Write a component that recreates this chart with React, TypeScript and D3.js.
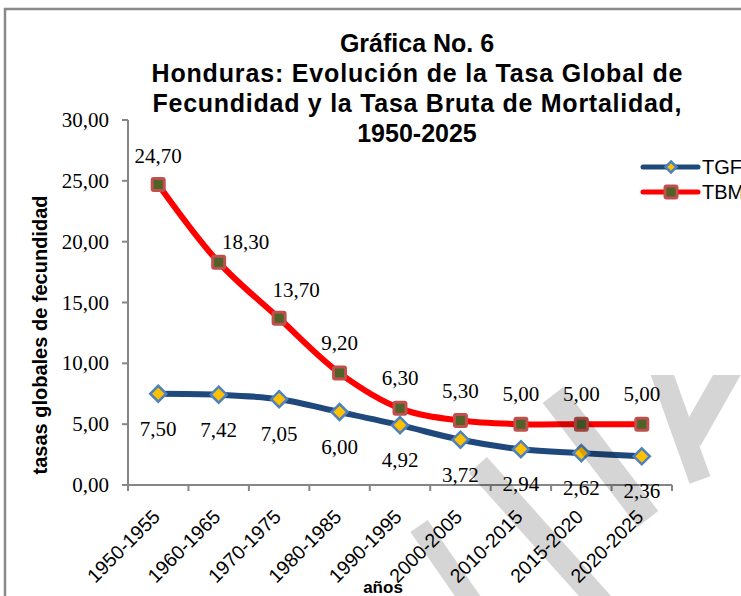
import React from "react";
import * as d3 from "d3";

const categories = ["1950-1955","1960-1965","1970-1975","1980-1985","1990-1995","2000-2005","2010-2015","2015-2020","2020-2025"];
const tgfValues = [7.50, 7.42, 7.05, 6.00, 4.92, 3.72, 2.94, 2.62, 2.36];
const tbmValues = [24.70, 18.30, 13.70, 9.20, 6.30, 5.30, 5.00, 5.00, 5.00];
const yTicks = [0, 5, 10, 15, 20, 25, 30];
const titleLines = ["Gráfica No. 6", "Honduras: Evolución de la Tasa Global de", "Fecundidad y la Tasa Bruta de Mortalidad,", "1950-2025"];
const seriesNames = ["TGF", "TBM"];

const W = 741, H = 596;
const fmt = (v: number) => d3.format(".2f")(v).replace(".", ",");

export default function App() {
  const x = d3.scaleBand<string>().domain(categories).range([128, 672]).paddingInner(0).paddingOuter(0);
  const y = d3.scaleLinear().domain([0, 30]).range([485, 120]);
  const cx = (i: number) => (x(categories[i]) as number) + x.bandwidth() / 2;

  const line = d3.line<number>().x((_, i) => cx(i)).y((d) => y(d)).curve(d3.curveCatmullRom.alpha(0.5));

  const serif = "'Liberation Serif', 'Times New Roman', serif";
  const sans = "'Liberation Sans', Arial, sans-serif";

  const diamond = (px: number, py: number, r: number) => `M${px},${py - r}L${px + r},${py}L${px},${py + r}L${px - r},${py}Z`;

  // per-label nudges for TBM labels (manually placed in the original)
  const tbmLabelDx = (i: number) => (i === 1 ? 27 : i === 2 ? 17 : 0);
  const tbmLabelDy = (i: number) => (i === 0 ? -21 : i === 1 ? -13 : i === 2 ? -21 : -23);

  const boundaries = categories.map((c) => x(c) as number).concat([672]);
  const titleLen = [0, 531, 529, 0];

  return (
    <svg width={W} height={H} style={{ position: "absolute", left: 0, top: 0, background: "#fff" }}>
      <defs>
        <clipPath id="wmclip"><rect x={0} y={375} width={W} height={H - 375} /></clipPath>
      </defs>
      <rect x={0} y={0} width={W} height={H} fill="#fff" />
      {/* frame */}
      <path d={`M5,${H}L5,9L${W},9`} fill="none" stroke="#8a8a8a" strokeWidth={2.5} />

      {/* title */}
      {titleLines.map((t, i) => (
        <text key={i} x={417} y={52 + i * 30} textAnchor="middle" fontFamily={sans} fontWeight="bold" fontSize={25} fill="#000"
          {...(titleLen[i] ? { textLength: titleLen[i], lengthAdjust: "spacing" } : {})}>{t}</text>
      ))}

      {/* y axis */}
      <line x1={128} x2={128} y1={y(30)} y2={y(0)} stroke="#868686" strokeWidth={2} />
      {yTicks.map((t) => (
        <g key={t}>
          <line x1={122} x2={128} y1={y(t)} y2={y(t)} stroke="#868686" strokeWidth={2} />
          <text x={109} y={y(t) + 7} textAnchor="end" fontFamily={serif} fontSize={21} fill="#000">{fmt(t)}</text>
        </g>
      ))}
      <text transform={`translate(47,335) rotate(-90)`} textAnchor="middle" fontFamily={sans} fontWeight="bold" fontSize={20} fill="#000">tasas globales de fecundidad</text>

      {/* x axis */}
      <line x1={128} x2={672} y1={y(0)} y2={y(0)} stroke="#868686" strokeWidth={2} />
      {boundaries.map((b, i) => (
        <line key={i} x1={b} x2={b} y1={y(0)} y2={y(0) + 6} stroke="#868686" strokeWidth={2} />
      ))}
      {categories.map((c, i) => (
        <text key={c} transform={`translate(${cx(i) + 3},${y(0) + 33}) rotate(-45)`} textAnchor="end" fontFamily={sans} fontSize={19.5} fill="#000">{c}</text>
      ))}
      <text x={383} y={593} textAnchor="middle" fontFamily={sans} fontWeight="bold" fontSize={17} fill="#000">años</text>

      {/* lines */}
      <path d={line(tgfValues) || ""} fill="none" stroke="#1f497d" strokeWidth={6} strokeLinejoin="round" />
      <path d={line(tbmValues) || ""} fill="none" stroke="#ff0000" strokeWidth={6} strokeLinejoin="round" />

      {/* markers */}
      {tgfValues.map((v, i) => (
        <path key={"d" + i} d={diamond(cx(i), y(v), 8)} fill="#ffc000" stroke="#4f81bd" strokeWidth={2.5} />
      ))}
      {tbmValues.map((v, i) => (
        <rect key={"s" + i} x={cx(i) - 6} y={y(v) - 6} width={12} height={12} rx={1.5} fill="#4f6228" stroke="#c0504d" strokeWidth={3} />
      ))}

      {/* data labels */}
      {tgfValues.map((v, i) => (
        <text key={"lt" + i} x={cx(i)} y={y(v) + 42} textAnchor="middle" fontFamily={serif} fontSize={21} fill="#000">{fmt(v)}</text>
      ))}
      {tbmValues.map((v, i) => (
        <text key={"lb" + i} x={cx(i) + tbmLabelDx(i)} y={y(v) + tbmLabelDy(i)} textAnchor="middle" fontFamily={serif} fontSize={21} fill="#000">{fmt(v)}</text>
      ))}

      {/* legend */}
      <line x1={643} x2={698} y1={167} y2={167} stroke="#1f497d" strokeWidth={5} strokeLinecap="round" />
      <path d={diamond(671, 167, 5.5)} fill="#ffc000" stroke="#4f81bd" strokeWidth={2.5} />
      <text x={702} y={174} fontFamily={sans} fontSize={20} fill="#000">{seriesNames[0]}</text>
      <line x1={643} x2={698} y1={192} y2={192} stroke="#ff0000" strokeWidth={5} strokeLinecap="round" />
      <rect x={665} y={186} width={12} height={12} rx={1.5} fill="#4f6228" stroke="#c0504d" strokeWidth={3} />
      <text x={702} y={199} fontFamily={sans} fontSize={20} fill="#000">{seriesNames[1]}</text>

      {/* watermark */}
      <g clipPath="url(#wmclip)" opacity={0.16} stroke="#000" fill="none" strokeLinecap="butt">
        <line x1={419} y1={526} x2={487} y2={624} strokeWidth={21} />
        <line x1={478} y1={465} x2={611} y2={614} strokeWidth={24} />
        <line x1={553} y1={395} x2={648} y2={519} strokeWidth={26} />
        <line x1={657} y1={360} x2={700} y2={480} strokeWidth={22} />
        <line x1={745} y1={343} x2={690} y2={440} strokeWidth={24} />
      </g>
    </svg>
  );
}
